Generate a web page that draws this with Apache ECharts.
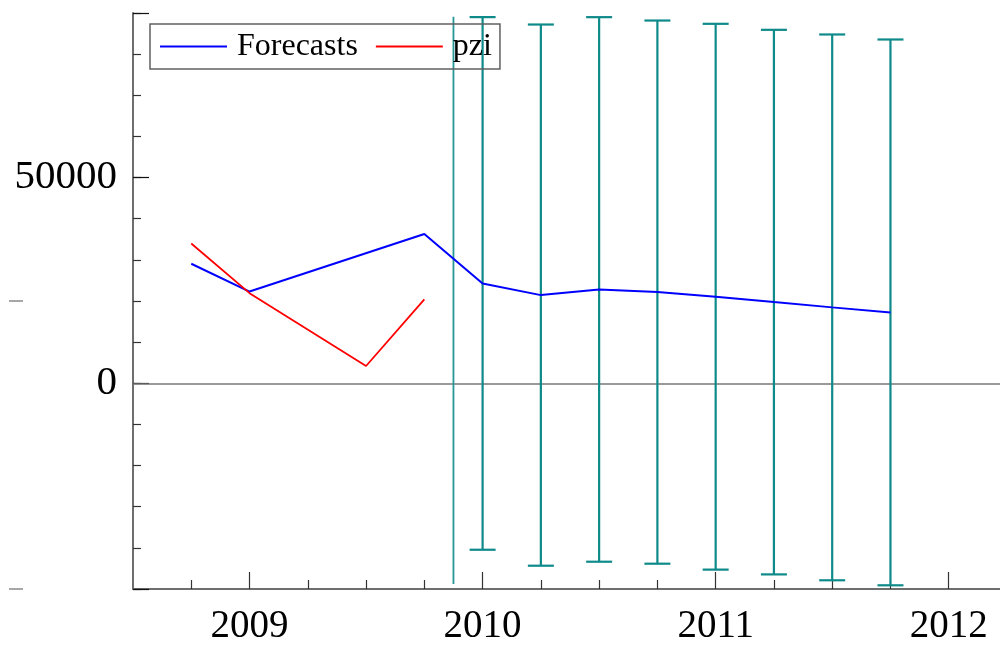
<!DOCTYPE html>
<html>
<head>
<meta charset="utf-8">
<title>Forecasts and pzi</title>
<script src="https://cdn.jsdelivr.net/npm/echarts@6/dist/echarts.min.js"></script>
<style>
  html, body { margin: 0; padding: 0; background: #ffffff; }
  #chart { width: 1000px; height: 646px; }
</style>
</head>
<body>
<div id="chart"></div>
<script>
// Quarterly dates are written as decimal years (Q1 = .00, Q4 = .75).
const forecastDates  = [2008.75, 2009.0, 2009.75, 2010.0, 2010.25, 2010.5, 2010.75, 2011.0, 2011.25, 2011.5, 2011.75];
const forecastValues = [29050, 22300, 36300, 24270, 21430, 22810, 22160, 21040, 19730, 18450, 17230];

const pziDates  = [2008.75, 2009.0, 2009.5, 2009.75];
const pziValues = [33980, 21900, 4200, 20390];

// Error bars (+/- 2 standard errors) around the out-of-sample forecasts.
const bandDates      = [2010.0, 2010.25, 2010.5, 2010.75, 2011.0, 2011.25, 2011.5, 2011.75];
const bandCentres    = [24270, 21430, 22810, 22160, 21040, 19730, 18450, 17230];
const bandHalfWidths = [64730, 65770, 66180, 66010, 66330, 66180, 66330, 66330];

// Vertical marker where the forecast period begins.
const forecastStartDate  = 2009.875;
const forecastStartRange = [-48780, 89070];

// Axis ticks and labels.
const yearTicks    = [2009, 2010, 2011, 2012];
const quarterTicks = [2008.75, 2009.25, 2009.5, 2009.75, 2010.25, 2010.5, 2010.75,
                      2011.25, 2011.5, 2011.75];
const yLabelValues = [0, 50000];
const yStrayTicks  = [20000, -50000];

const serif = "'Liberation Serif', 'Times New Roman', serif";
const teal = '#0e8a8a';
const axisGray = '#6e6e6e';

const chart = echarts.init(document.getElementById('chart'), null, { renderer: 'canvas' });

const forecastData = forecastDates.map((d, i) => [d, forecastValues[i]]);
const pziData = pziDates.map((d, i) => [d, pziValues[i]]);
const bandData = bandDates.map((d, i) => [d, bandCentres[i] - bandHalfWidths[i], bandCentres[i] + bandHalfWidths[i]]);
const startLineData = forecastStartRange.map(v => [forecastStartDate, v]);

const xCommon = { type: 'value', min: 2008.5, max: 2012.22, splitLine: { show: false } };
const yCommon = { type: 'value', min: -50000, max: 90000, splitLine: { show: false } };

chart.setOption({
  animation: false,
  backgroundColor: '#ffffff',
  grid: { left: 133, right: 0, top: 13, bottom: 56, containLabel: false },
  legend: {
    left: 150,
    top: 24,
    orient: 'horizontal',
    data: [
      { name: 'Forecasts', icon: 'rect' },
      { name: 'pzi', icon: 'rect' }
    ],
    itemWidth: 67,
    itemHeight: 2,
    itemGap: 18,
    padding: [5, 8, 5, 10],
    borderColor: '#606060',
    borderWidth: 1.5,
    borderRadius: 0,
    backgroundColor: 'transparent',
    selectedMode: false,
    textStyle: {
      fontFamily: serif,
      fontSize: 32,
      color: '#000000',
      lineHeight: 35,
      padding: [0, 0, 0, 5]
    }
  },
  xAxis: [
    Object.assign({}, xCommon, {
      axisLine: { show: true, onZero: false, lineStyle: { color: axisGray, width: 2 } },
      axisTick: { show: true, inside: true, length: 9, customValues: quarterTicks,
                  lineStyle: { color: '#333333', width: 1.2 } },
      axisLabel: { show: false }
    }),
    Object.assign({}, xCommon, {
      position: 'bottom',
      axisLine: { show: false, onZero: false },
      axisTick: { show: true, inside: true, length: 17, customValues: yearTicks,
                  lineStyle: { color: '#333333', width: 1.2 } },
      axisLabel: {
        show: true, customValues: yearTicks, margin: 18,
        fontFamily: serif, fontSize: 39, color: '#000000',
        formatter: v => String(Math.round(v))
      }
    })
  ],
  yAxis: [
    Object.assign({}, yCommon, {
      interval: 10000,
      axisLine: { show: true, onZero: false, lineStyle: { color: axisGray, width: 2 } },
      axisTick: { show: true, inside: true, length: 8, lineStyle: { color: '#333333', width: 1.2 } },
      axisLabel: { show: false }
    }),
    Object.assign({}, yCommon, {
      position: 'left',
      interval: 50000,
      axisLine: { show: false, onZero: false },
      axisTick: { show: true, inside: true, length: 16, lineStyle: { color: '#111111', width: 1.2 } },
      axisLabel: {
        show: true, customValues: yLabelValues, margin: 16,
        fontFamily: serif, fontSize: 41, color: '#000000',
        formatter: v => String(Math.round(v))
      }
    }),
    Object.assign({}, yCommon, {
      position: 'left',
      offset: 110,
      axisLine: { show: false, onZero: false },
      axisTick: { show: true, inside: false, length: 14, customValues: yStrayTicks,
                  lineStyle: { color: '#8a8a8a', width: 1.5 } },
      axisLabel: { show: false }
    })
  ],
  series: [
    {
      name: 'forecast start',
      type: 'line',
      data: startLineData,
      showSymbol: false,
      symbol: 'none',
      silent: true,
      lineStyle: { color: '#279696', width: 1.8 },
      z: 3
    },
    {
      name: 'bands',
      type: 'custom',
      data: bandData,
      silent: true,
      z: 3,
      renderItem: function (params, api) {
        const x = api.value(0);
        const top = api.coord([x, api.value(2)]);
        const bot = api.coord([x, api.value(1)]);
        const cap = 13;
        const style = { stroke: teal, lineWidth: 2.2 };
        return {
          type: 'group',
          children: [
            { type: 'line', shape: { x1: top[0], y1: top[1], x2: bot[0], y2: bot[1] }, style: style },
            { type: 'line', shape: { x1: top[0] - cap, y1: top[1], x2: top[0] + cap, y2: top[1] }, style: style },
            { type: 'line', shape: { x1: bot[0] - cap, y1: bot[1], x2: bot[0] + cap, y2: bot[1] }, style: style }
          ]
        };
      }
    },
    {
      name: 'Forecasts',
      type: 'line',
      data: forecastData,
      showSymbol: false,
      symbol: 'none',
      color: '#0000ff',
      lineStyle: { color: '#0000ff', width: 2 },
      z: 4,
      markLine: {
        silent: true,
        symbol: 'none',
        label: { show: false },
        lineStyle: { color: '#777777', width: 1.5, type: 'solid' },
        data: [{ yAxis: 0 }],
        z: 1
      }
    },
    {
      name: 'pzi',
      type: 'line',
      data: pziData,
      showSymbol: false,
      symbol: 'none',
      color: '#ff0000',
      lineStyle: { color: '#ff0000', width: 1.8 },
      z: 4
    }
  ]
});
</script>
</body>
</html>
